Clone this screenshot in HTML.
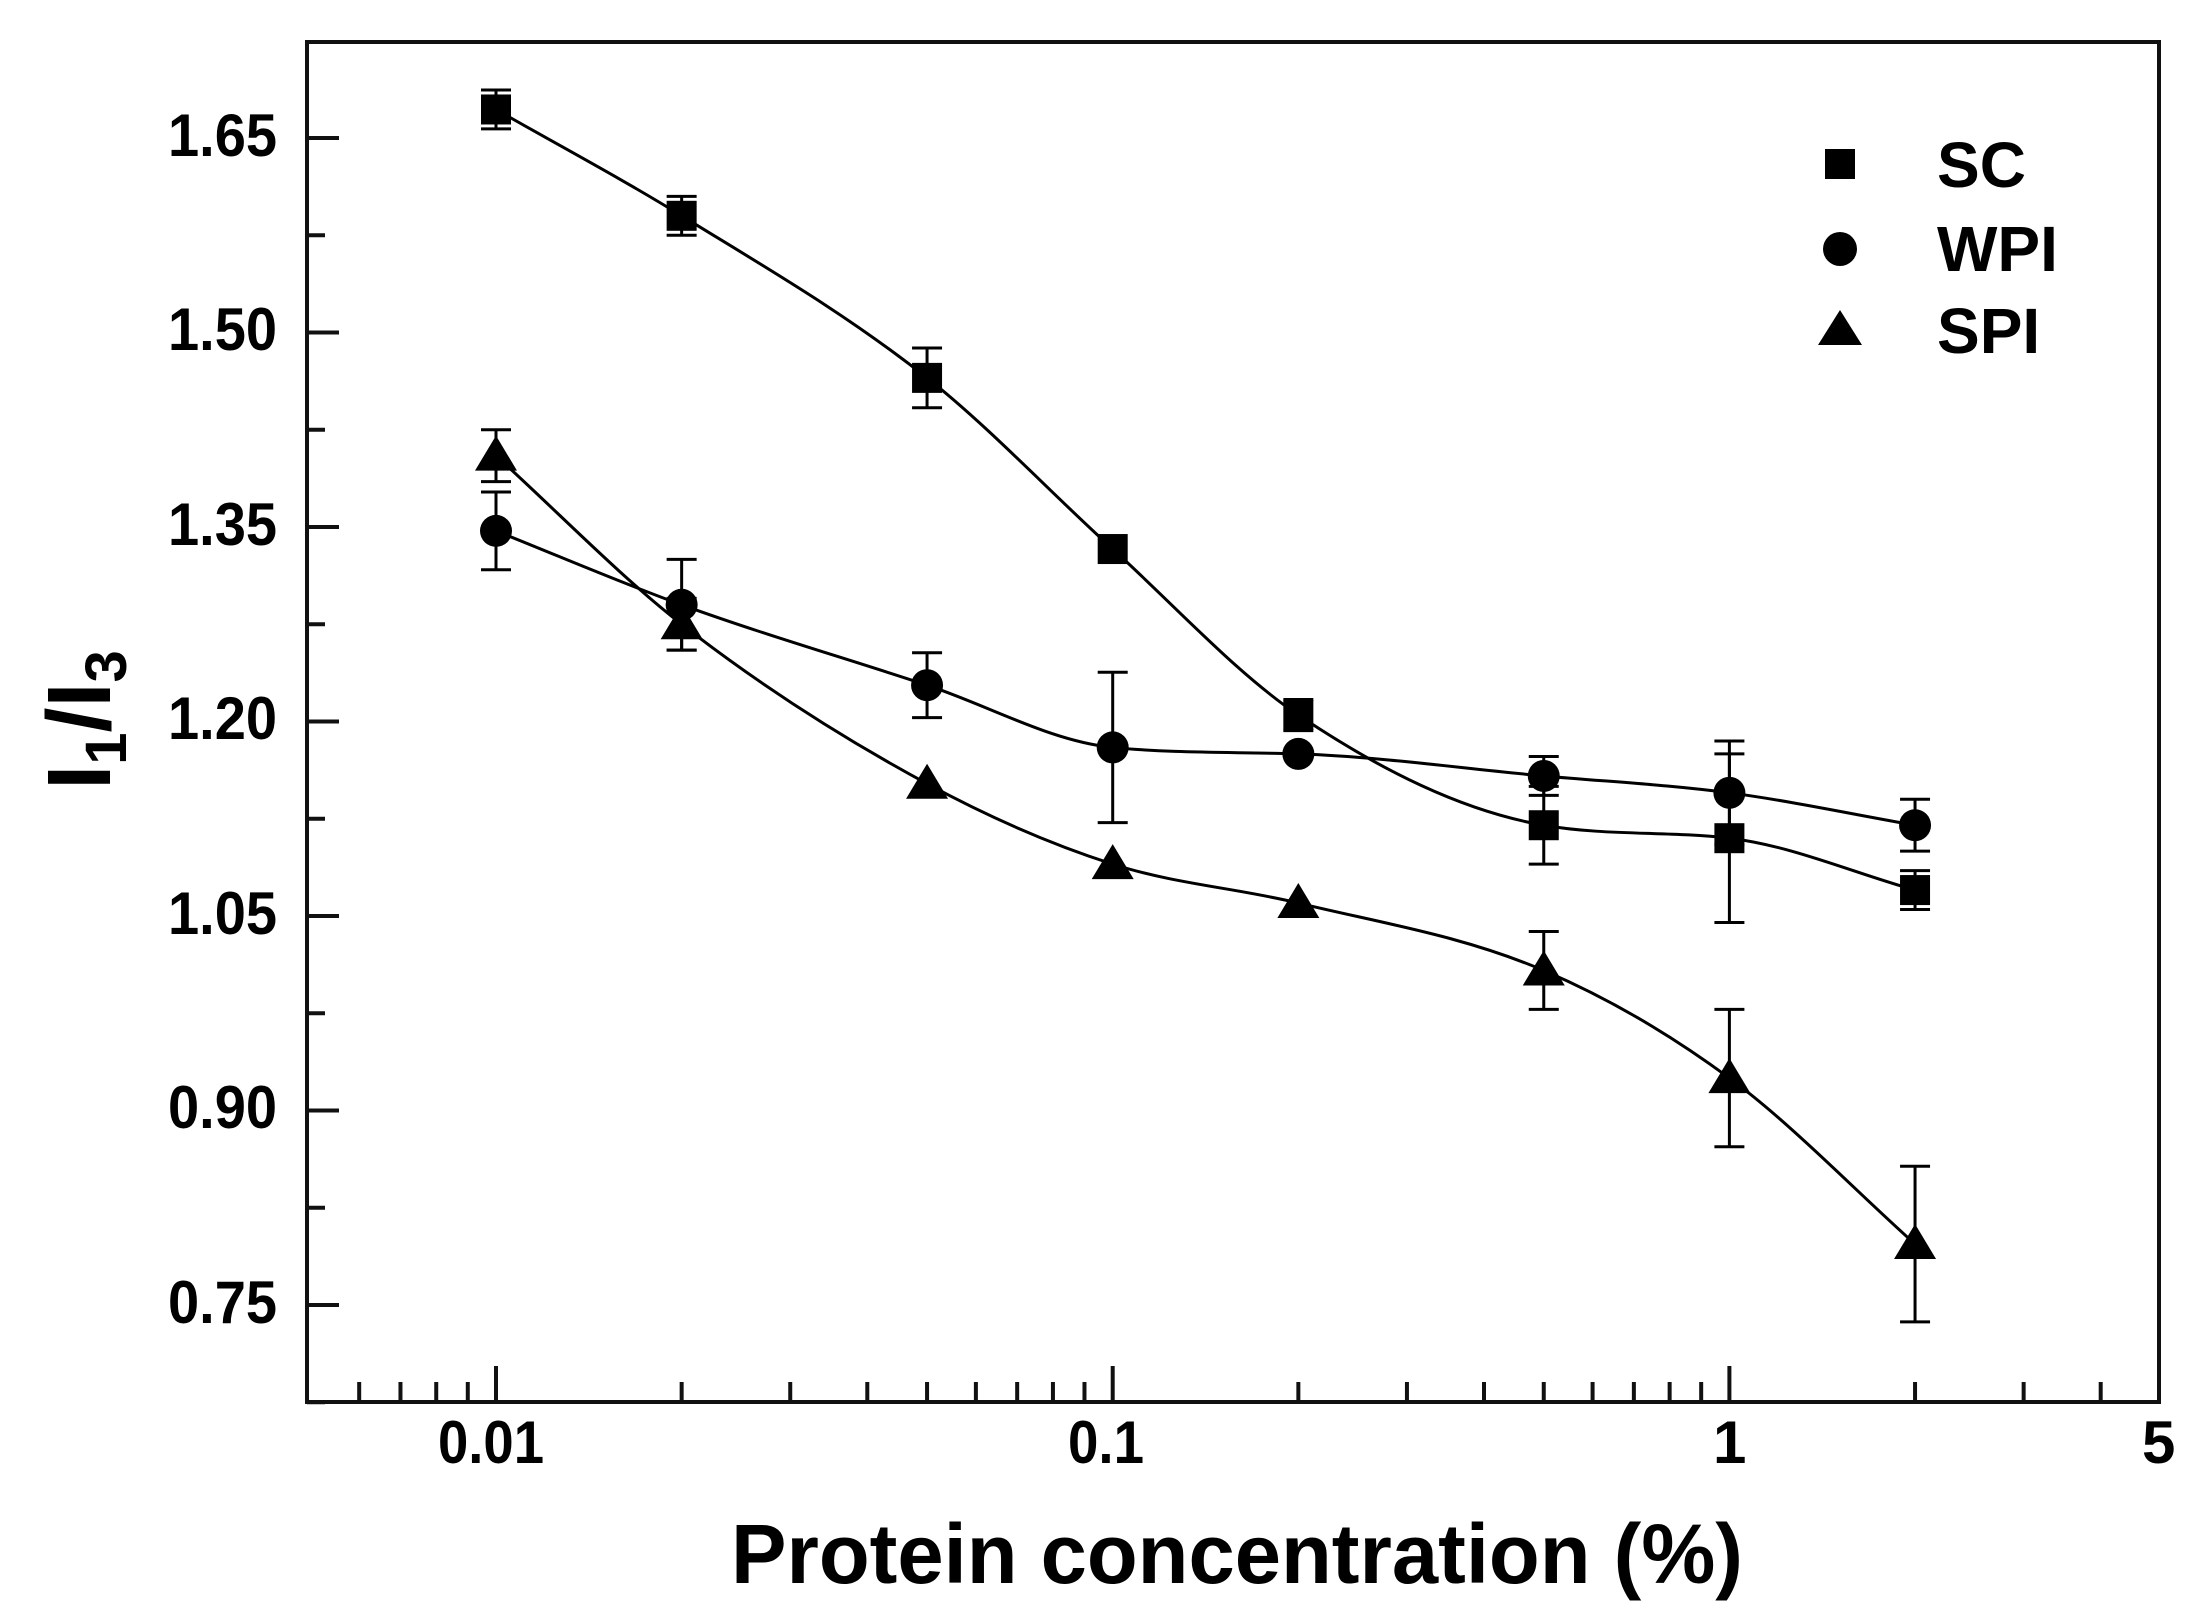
<!DOCTYPE html>
<html><head><meta charset="utf-8"><style>
html,body{margin:0;padding:0;background:#fff;width:2194px;height:1621px;overflow:hidden}
svg text{font-family:"Liberation Sans",Arial,sans-serif;font-weight:bold;fill:#000}
</style></head><body>
<svg id="s" width="2194" height="1621" viewBox="0 0 2194 1621" xmlns="http://www.w3.org/2000/svg">
<rect x="307" y="42" width="1852" height="1360" fill="none" stroke="#111" stroke-width="4"/>
<g id="ticks" stroke="#111" stroke-width="4"></g>
<g id="curves" fill="none" stroke="#000" stroke-width="3"></g>
<g id="err" stroke="#000" stroke-width="3"></g>
<g id="marks" fill="#000"></g>
<g font-size="60" text-anchor="end">
<text x="277" y="156" textLength="109" lengthAdjust="spacingAndGlyphs">1.65</text>
<text x="277" y="350" textLength="109" lengthAdjust="spacingAndGlyphs">1.50</text>
<text x="277" y="545" textLength="109" lengthAdjust="spacingAndGlyphs">1.35</text>
<text x="277" y="739" textLength="109" lengthAdjust="spacingAndGlyphs">1.20</text>
<text x="277" y="934" textLength="109" lengthAdjust="spacingAndGlyphs">1.05</text>
<text x="277" y="1128" textLength="109" lengthAdjust="spacingAndGlyphs">0.90</text>
<text x="277" y="1323" textLength="109" lengthAdjust="spacingAndGlyphs">0.75</text>
</g>
<g font-size="60">
<text x="438" y="1463" textLength="106" lengthAdjust="spacingAndGlyphs">0.01</text>
<text x="1068" y="1463" textLength="76" lengthAdjust="spacingAndGlyphs">0.1</text>
<text x="1713" y="1463">1</text>
<text x="2142" y="1463">5</text>
</g>
<text x="731" y="1583" font-size="84" textLength="1012" lengthAdjust="spacingAndGlyphs">Protein concentration (%)</text>
<text transform="translate(110,720) rotate(-90)" font-size="90" text-anchor="middle">I<tspan font-size="58" dy="16">1</tspan><tspan dy="-16">/I</tspan><tspan font-size="58" dy="16">3</tspan></text>
<rect x="1825" y="149" width="30" height="30" fill="#000"/>
<circle cx="1840" cy="249" r="17" fill="#000"/>
<polygon points="1840,310 1862,345 1818,345" fill="#000"/>
<g font-size="64"><text x="1937" y="187">SC</text><text x="1937" y="271">WPI</text><text x="1937" y="353">SPI</text></g>
</svg>
<script>
var NS="http://www.w3.org/2000/svg";
function X(v){return 496+616.7*Math.log10(v/0.01);}
function Y(v){return 138+(1.65-v)/0.15*194.5;}
function el(p,t,a){var e=document.createElementNS(NS,t);for(var k in a)e.setAttribute(k,a[k]);document.getElementById(p).appendChild(e);}
var xs=[0.006,0.007,0.008,0.009,0.01,0.02,0.03,0.04,0.05,0.06,0.07,0.08,0.09,0.1,0.2,0.3,0.4,0.5,0.6,0.7,0.8,0.9,1,2,3,4];
xs.forEach(function(v){var maj=(v==0.01||v==0.1||v==1);var x=X(v);el('ticks','line',{x1:x,y1:1402,x2:x,y2:maj?1366:1382});});
for(var v=0.675;v<=1.72;v+=0.075){var y=Y(v);var maj=Math.abs(((v-0.75)/0.15)-Math.round((v-0.75)/0.15))<0.01;el('ticks','line',{x1:307,y1:y,x2:maj?339:325,y2:y});}
var px=[0.01,0.02,0.05,0.1,0.2,0.5,1,2];
var S={
sc:{y:[1.672,1.59,1.465,1.333,1.205,1.12,1.11,1.07],e:[0.015,0.015,0.023,0.006,0.012,0.03,0.065,0.015]},
wpi:{y:[1.347,1.29,1.228,1.18,1.175,1.158,1.145,1.12],e:[0.03,0.035,0.025,0.058,0.006,0.015,0.04,0.02]},
spi:{y:[1.405,1.275,1.152,1.09,1.06,1.008,0.925,0.797],e:[0.02,0.02,0.006,0.006,0.006,0.03,0.053,0.06]}
};
function mono(P){var n=P.length,d=[],m=[];for(var i=0;i<n-1;i++)d.push((P[i+1][1]-P[i][1])/(P[i+1][0]-P[i][0]));
m[0]=d[0];m[n-1]=d[n-2];for(i=1;i<n-1;i++){m[i]=(d[i-1]*d[i]<=0)?0:(d[i-1]+d[i])/2;}
for(i=0;i<n-1;i++){if(d[i]==0){m[i]=m[i+1]=0;continue;}var a=m[i]/d[i],b=m[i+1]/d[i],s=a*a+b*b;if(s>9){var t=3/Math.sqrt(s);m[i]=t*a*d[i];m[i+1]=t*b*d[i];}}
var s="M"+P[0][0]+","+P[0][1];for(i=0;i<n-1;i++){var h=(P[i+1][0]-P[i][0])/3;s+=" C"+(P[i][0]+h)+","+(P[i][1]+m[i]*h)+" "+(P[i+1][0]-h)+","+(P[i+1][1]-m[i+1]*h)+" "+P[i+1][0]+","+P[i+1][1];}return s;}
for(var k in S){var P=px.map(function(x,i){return [X(x),Y(S[k].y[i])];});
el('curves','path',{d:mono(P)});
P.forEach(function(p,i){var e=S[k].e[i]*194.5/0.15;if(e>10){el('err','line',{x1:p[0],y1:p[1]-e,x2:p[0],y2:p[1]+e});el('err','line',{x1:p[0]-15,y1:p[1]-e,x2:p[0]+15,y2:p[1]-e});el('err','line',{x1:p[0]-15,y1:p[1]+e,x2:p[0]+15,y2:p[1]+e});}
if(k=='sc')el('marks','rect',{x:p[0]-15,y:p[1]-15,width:30,height:30});
else if(k=='wpi')el('marks','circle',{cx:p[0],cy:p[1],r:16});
else el('marks','polygon',{points:p[0]+","+(p[1]-20)+" "+(p[0]+21)+","+(p[1]+15)+" "+(p[0]-21)+","+(p[1]+15)});});}
</script>
</body></html>
